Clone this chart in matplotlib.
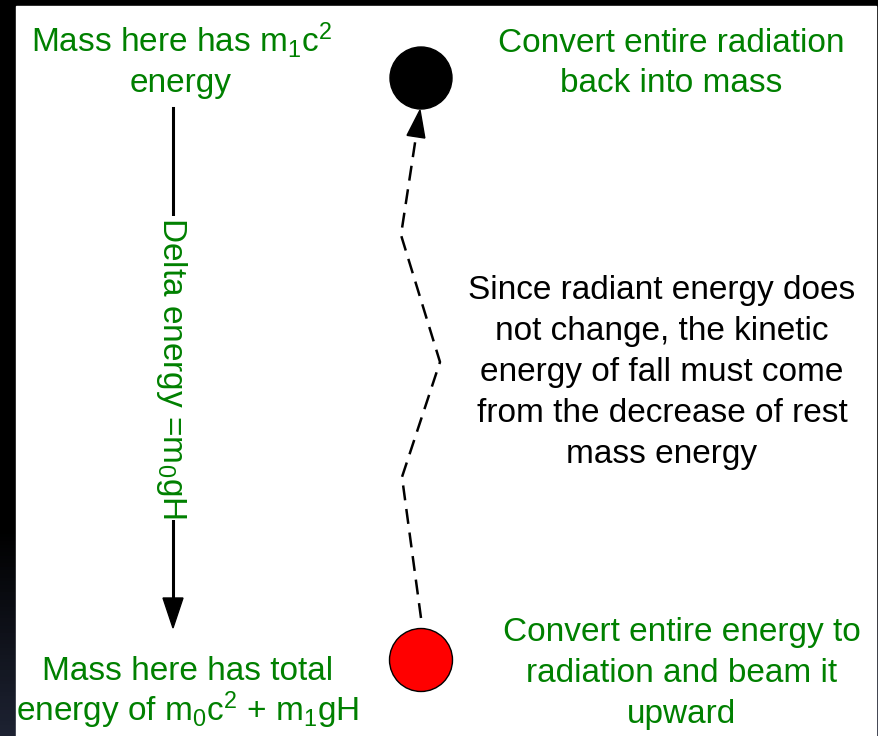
import numpy as np
import matplotlib
matplotlib.use("Agg")
import matplotlib.pyplot as plt
from matplotlib.patches import Rectangle, Circle, Polygon
from matplotlib.colors import LinearSegmentedColormap

plt.rcParams['font.family'] = ['Liberation Sans', 'DejaVu Sans']
plt.rcParams['mathtext.fontset'] = 'custom'
plt.rcParams['mathtext.rm'] = 'Liberation Sans'
plt.rcParams['mathtext.it'] = 'Liberation Sans'
plt.rcParams['mathtext.bf'] = 'Liberation Sans:bold'

GREEN = '#008000'

# ---- content ----
top_left_lines = [r'Mass here has m$_1$c$^2$', 'energy']
bottom_left_lines = ['Mass here has total', r'energy of m$_0$c$^2$ + m$_1$gH']
top_right_lines = ['Convert entire radiation', 'back into mass']
middle_lines = ['Since radiant energy does', 'not change, the kinetic',
                'energy of fall must come', 'from the decrease of rest',
                'mass energy']
bottom_right_lines = ['Convert entire energy to', 'radiation and beam it', 'upward']
delta_label = r'Delta energy =m$_0$gH'

# beam path (pixel coords, y downward)
beam_x = [421, 402, 440, 401, 420]
beam_y = [618, 477, 362, 235, 110]

W, H = 879, 736
fig = plt.figure(figsize=(W / 100, H / 100), dpi=100)
ax = fig.add_axes([0, 0, 1, 1])
ax.set_xlim(0, W)
ax.set_ylim(H, 0)
ax.axis('off')

# frame / background
ax.add_patch(Rectangle((0, 0), W, H, color='black', zorder=0))
grad = np.linspace(0, 1, 200).reshape(-1, 1)
cmap = LinearSegmentedColormap.from_list('edge', [(0, '#000000'), (0.72, '#000000'),
                                                  (1.0, '#1d2232')])
ax.imshow(grad, extent=[0, 16, H, 0], cmap=cmap, aspect='auto', zorder=0.5)
ax.imshow(grad, extent=[876, W, H, 0], cmap=cmap, aspect='auto', zorder=0.5)
ax.add_patch(Rectangle((16, 6), 860, H - 6, color='white', zorder=1))


def lines_at(lines, x, y0, dy, color):
    for i, s in enumerate(lines):
        ax.text(x, y0 + i * dy, s, color=color, fontsize=24, ha='center',
                va='baseline', zorder=5)


lines_at(top_left_lines, 181, 52, 40, GREEN)
lines_at(bottom_left_lines, 188, 680, 41, GREEN)
lines_at(top_right_lines, 671, 52, 40, GREEN)
lines_at(middle_lines, 662, 299, 41, 'black')
lines_at(bottom_right_lines, 682, 641, 41, GREEN)

# vertical arrow
ax.plot([173, 173], [108, 600], color='black', lw=2.2, zorder=3)
ax.add_patch(Polygon([[163, 598], [183, 598], [173, 628]], closed=True,
                     color='black', zorder=3))
ax.text(171, 368, delta_label, color=GREEN, fontsize=24, rotation=-90,
        ha='center', va='center', rotation_mode='anchor', zorder=4,
        bbox=dict(facecolor='white', edgecolor='none', pad=1))

# circles
ax.add_patch(Circle((421, 78), 31, facecolor='black', edgecolor='black', zorder=4))
ax.add_patch(Circle((421, 660), 31.5, facecolor='#ff0000', edgecolor='black',
                    lw=1, zorder=4))

# dashed beam with arrow head
bx = np.array(beam_x, float)
by = np.array(beam_y, float)
d = np.array([bx[-1] - bx[-2], by[-1] - by[-2]])
d /= np.hypot(*d)
n = np.array([-d[1], d[0]])
head_len, head_w = 27, 18
tip = np.array([bx[-1], by[-1]])
base = tip - d * head_len
px = np.concatenate([bx[:-1], [base[0]]])
py = np.concatenate([by[:-1], [base[1]]])
ax.plot(px, py, color='black', lw=1.8, linestyle=(0, (6, 3.5)), zorder=3)
ax.add_patch(Polygon([tip, base + n * head_w / 2, base - n * head_w / 2],
                     closed=True, color='black', zorder=3))

fig.savefig('out.png', dpi=100)
